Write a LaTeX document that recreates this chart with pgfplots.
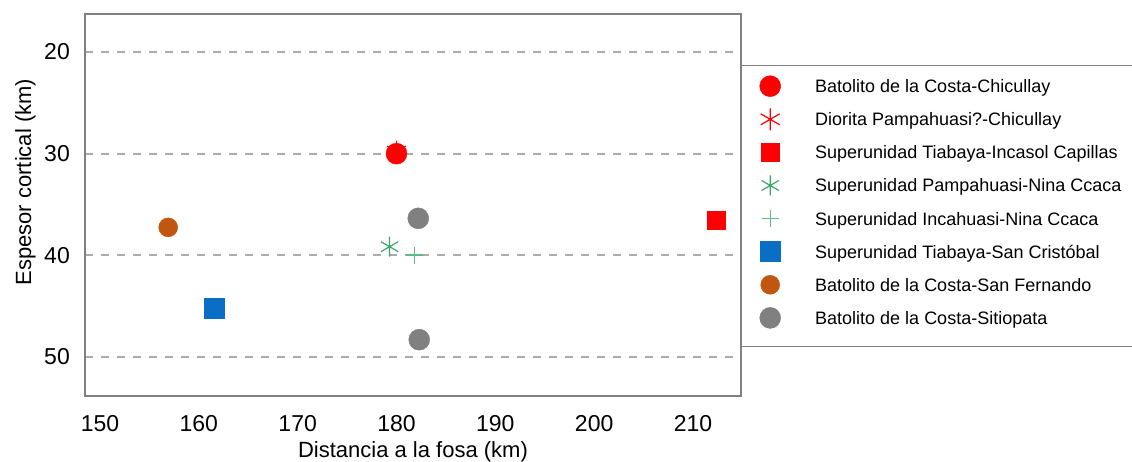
\documentclass[border=0pt]{standalone}
\usepackage{pgfplots}
\pgfplotsset{compat=1.18}
\usepackage{fontspec}
\setmainfont{Liberation Sans}
\definecolor{cRed}{HTML}{FF0000}
\definecolor{cGreen}{HTML}{3DA66A}
\definecolor{cGreenL}{HTML}{5DBB85}
\definecolor{cBlue}{HTML}{0A6EC4}
\definecolor{cOrange}{HTML}{C0560F}
\definecolor{cGray}{HTML}{808080}
\definecolor{cGrid}{HTML}{ABABAB}
\pgfplotsset{
  mk/.style={only marks,
    legend image code/.code={\path[draw=none,fill=none] (-12pt,-10pt) rectangle (12pt,14pt); \draw[##1] plot coordinates {(0pt,2pt)};}},
}
\begin{document}
\begin{tikzpicture}
\useasboundingbox (-85pt,-65pt) rectangle (1047pt,396pt);
\begin{axis}[
  scale only axis, width=656pt, height=382pt,
  xmin=148.48, xmax=214.86, ymin=16.26, ymax=53.84, y dir=reverse,
  xtick={150,160,...,210}, ytick={20,30,40,50},
  major tick length=0pt,
  axis line style={draw=cGray, line width=1.3pt},
  ymajorgrids, grid style={draw=cGrid, line width=2pt, dash pattern=on 8pt off 8pt},
  /pgf/number format/assume math mode=true,
  tick label style={font=\fontsize{23}{23}\selectfont, inner sep=0pt},
  xticklabel style={yshift=-19pt},
  yticklabel style={xshift=-15pt},
  xlabel={Distancia a la fosa (km)}, ylabel={Espesor cortical (km)},
  label style={font=\fontsize{22}{22}\selectfont},
  xlabel style={at={(axis description cs:0.5,-0.160)}, anchor=base, inner sep=0pt},
  ylabel style={at={(axis description cs:-0.082,0.560)}, anchor=base, inner sep=0pt},
  clip=false,
  legend style={draw=none, fill=none, at={(axis description cs:1,0.8639)}, anchor=north west,
    inner xsep=17pt, inner ysep=8pt, row sep=9.1pt, column sep=33pt,
    font=\fontsize{18}{20}\selectfont,
    nodes={inner sep=0pt, text height=13pt, text depth=4pt}},
  legend cell align=left,
]
\addplot[mk, mark=asterisk, mark size=11pt, color=cRed, line width=1.2pt, forget plot] coordinates {(180,29.8)};
\addplot[mk, mark=*, mark size=10.5pt, color=cRed] coordinates {(180,30)};
\addlegendentry{Batolito de la Costa-Chicullay}
\addlegendimage{mk, mark=asterisk, mark size=11pt, color=cRed, line width=1.2pt}
\addlegendentry{Diorita Pampahuasi?-Chicullay}
\addplot[mk, mark=square*, mark size=9pt, color=cRed] coordinates {(212.33,36.5)};
\addlegendentry{Superunidad Tiabaya-Incasol Capillas}
\addplot[mk, mark=asterisk, mark size=10pt, color=cGreen, line width=1.2pt] coordinates {(179.3,39.15)};
\addlegendentry{Superunidad Pampahuasi-Nina Ccaca}
\addplot[mk, mark=+, mark size=8.5pt, color=cGreenL, line width=1.2pt] coordinates {(181.8,39.97)};
\addlegendentry{Superunidad Incahuasi-Nina Ccaca}
\addplot[mk, mark=square*, mark size=10pt, color=cBlue] coordinates {(161.6,45.2)};
\addlegendentry{Superunidad Tiabaya-San Cristóbal}
\addplot[mk, mark=*, mark size=9.5pt, color=cOrange] coordinates {(156.9,37.25)};
\addlegendentry{Batolito de la Costa-San Fernando}
\addplot[mk, mark=*, mark size=10.5pt, color=cGray] coordinates {(182.2,36.36) (182.3,48.3)};
\addlegendentry{Batolito de la Costa-Sitiopata}
\draw[cGray, line width=1pt] (axis description cs:1,0.8639) rectangle (axis description cs:1.62,0.1283);
\end{axis}
\end{tikzpicture}
\end{document}
